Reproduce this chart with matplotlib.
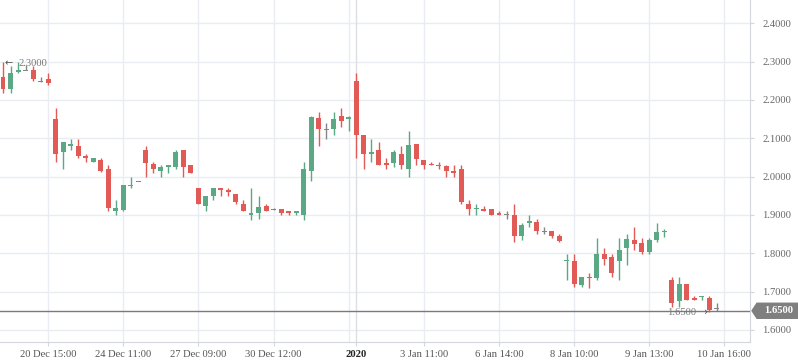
import matplotlib
matplotlib.use('Agg')
import matplotlib.pyplot as plt
from matplotlib.patches import Polygon
import numpy as np

# OHLC, one row per candle
opens = [2.261, 2.229, 2.274, 2.278, 2.278, 2.248, 2.255, 2.150, 2.065, 2.080,
         2.080, 2.054, 2.039, 2.043, 2.021, 1.911, 1.914, 1.977, 1.988, 2.069,
         2.033, 2.015, 2.026, 2.026, 2.069, 2.030, 1.971, 1.924, 1.950, 1.970,
         1.965, 1.955, 1.929, 1.900, 1.905, 1.923, 1.915, 1.916, 1.910, 1.905,
         1.901, 2.015, 2.152, 2.123, 2.124, 2.158, 2.152, 2.249, 2.109, 2.060,
         2.069, 2.034, 2.035, 2.059, 2.020, 2.085, 2.043, 2.033, 2.030, 2.028,
         2.013, 2.020, 1.929, 1.917, 1.916, 1.916, 1.905, 1.900, 1.900, 1.845,
         1.879, 1.882, 1.858, 1.858, 1.845, 1.780, 1.780, 1.717, 1.738, 1.735,
         1.798, 1.790, 1.780, 1.814, 1.835, 1.827, 1.803, 1.835, 1.857, 1.730,
         1.676, 1.720, 1.684, 1.687, 1.684, 1.655]
highs = [2.300, 2.289, 2.300, 2.290, 2.289, 2.259, 2.271, 2.178, 2.090, 2.098,
         2.098, 2.060, 2.049, 2.049, 2.030, 1.939, 1.978, 2.000, 1.988, 2.080,
         2.038, 2.030, 2.030, 2.069, 2.069, 2.030, 1.971, 1.949, 1.970, 1.970,
         1.970, 1.955, 1.939, 1.970, 1.949, 1.929, 1.917, 1.916, 1.910, 1.910,
         2.037, 2.159, 2.169, 2.139, 2.169, 2.179, 2.159, 2.270, 2.109, 2.098,
         2.090, 2.049, 2.069, 2.080, 2.119, 2.085, 2.043, 2.039, 2.038, 2.030,
         2.030, 2.030, 1.939, 1.929, 1.923, 1.916, 1.910, 1.910, 1.929, 1.879,
         1.900, 1.890, 1.869, 1.858, 1.850, 1.798, 1.798, 1.738, 1.748, 1.840,
         1.814, 1.798, 1.840, 1.850, 1.869, 1.840, 1.840, 1.879, 1.863, 1.738,
         1.738, 1.720, 1.689, 1.689, 1.689, 1.671]
lows = [2.219, 2.219, 2.271, 2.277, 2.250, 2.248, 2.240, 2.039, 2.021, 2.069,
        2.049, 2.039, 2.039, 2.013, 1.911, 1.900, 1.911, 1.971, 1.988, 2.000,
        2.010, 2.000, 2.010, 2.021, 2.000, 2.010, 1.929, 1.911, 1.939, 1.950,
        1.950, 1.929, 1.911, 1.887, 1.890, 1.911, 1.912, 1.900, 1.900, 1.900,
        1.887, 1.989, 2.080, 2.099, 2.109, 2.129, 2.119, 2.049, 2.020, 2.039,
        2.031, 2.021, 2.026, 2.020, 1.999, 2.030, 2.020, 2.030, 2.020, 1.999,
        1.999, 1.929, 1.900, 1.900, 1.910, 1.900, 1.900, 1.890, 1.829, 1.835,
        1.869, 1.850, 1.850, 1.840, 1.829, 1.730, 1.711, 1.711, 1.709, 1.730,
        1.770, 1.738, 1.730, 1.770, 1.808, 1.798, 1.798, 1.829, 1.842, 1.661,
        1.661, 1.679, 1.679, 1.679, 1.648, 1.650]
closes = [2.229, 2.271, 2.277, 2.278, 2.255, 2.248, 2.245, 2.060, 2.090, 2.085,
          2.054, 2.049, 2.049, 2.015, 1.919, 1.918, 1.978, 1.979, 1.988, 2.035,
          2.021, 2.026, 2.030, 2.064, 2.026, 2.010, 1.929, 1.949, 1.970, 1.965,
          1.960, 1.934, 1.911, 1.905, 1.921, 1.911, 1.915, 1.905, 1.905, 1.910,
          2.020, 2.156, 2.124, 2.123, 2.150, 2.146, 2.154, 2.109, 2.060, 2.064,
          2.031, 2.032, 2.064, 2.030, 2.083, 2.046, 2.030, 2.030, 2.028, 2.015,
          2.011, 1.935, 1.916, 1.919, 1.910, 1.900, 1.900, 1.900, 1.845, 1.874,
          1.885, 1.858, 1.858, 1.845, 1.832, 1.782, 1.720, 1.738, 1.735, 1.798,
          1.785, 1.749, 1.808, 1.837, 1.824, 1.803, 1.835, 1.856, 1.859, 1.671,
          1.720, 1.679, 1.679, 1.688, 1.653, 1.655]

tick_idx = [6, 16, 26, 36, 47, 56, 66, 76, 86, 96]
tick_labels = ['20 Dec 15:00', '24 Dec 11:00', '27 Dec 09:00', '30 Dec 12:00', '2020',
               '3 Jan 11:00', '6 Jan 14:00', '8 Jan 10:00', '9 Jan 13:00', '10 Jan 16:00']
grid_idx = [6, 16, 26, 36, 46, 56, 66, 76, 86, 96]
year_idx = 47
price_ticks = [1.6, 1.7, 1.8, 1.9, 2.0, 2.1, 2.2, 2.3, 2.4]
last_price = 1.65

plt.rcParams['font.family'] = ['Liberation Serif', 'DejaVu Sans']

GREEN = '#5ba884'
RED = '#e25a55'
GRAY = '#858585'
GRID = '#e9ecf0'
AXIS = '#d3d7dc'

o = np.array(opens); h = np.array(highs); l = np.array(lows); c = np.array(closes)
x = np.arange(len(o))
cols = np.where(c > o, GREEN, np.where(c < o, RED, GRAY))

fig = plt.figure(figsize=(7.98, 3.63), dpi=100)
ax = fig.add_axes([0, 21 / 363, 750 / 798, 342 / 363])

for p in price_ticks:
    ax.axhline(p, color=GRID, lw=1, zorder=0)
for g in grid_idx:
    ax.axvline(g, color=GRID, lw=1, zorder=0)
ax.axvline(year_idx, color='#dcdfe4', lw=1, zorder=0)

ax.vlines(x, l, h, colors=cols, lw=1.0, zorder=2)
body = np.maximum(np.abs(c - o), 0.0028)
ax.bar(x, body, bottom=np.minimum(o, c) - (body - np.abs(c - o)) / 2,
       width=0.66, color=cols, zorder=3)

ax.axhline(last_price, color='#7a7a7a', lw=1, zorder=4)

ax.set_xlim(-0.4, 99.4)
ax.set_ylim(1.5685, 2.4608)

ax.set_xticks(tick_idx)
ax.set_xticklabels(tick_labels)
ax.set_yticks(price_ticks)
ax.set_yticklabels(['%.4f' % p for p in price_ticks])
ax.yaxis.tick_right()
ax.tick_params(axis='y', length=3, color=AXIS, pad=6, labelsize=7.6, labelcolor='#666666')
ax.tick_params(axis='x', length=3, color=AXIS, pad=3, labelsize=7.6, labelcolor='#555555')
for t in ax.get_xticklabels():
    if t.get_text() == '2020':
        t.set_fontweight('bold')
        t.set_color('#222222')

for s in ['top', 'left']:
    ax.spines[s].set_visible(False)
ax.spines['right'].set_color(AXIS)
ax.spines['bottom'].set_color(AXIS)

# high / low markers (arrow drawn in DejaVu so it reads clearly)
hi = int(np.argmax(h))
lo = int(np.argmin(l))
ax.text(hi + 0.2, h[hi] - 0.005, '\u2190', family='DejaVu Sans', fontsize=7, color='#555555',
        ha='left', va='center', zorder=5)
ax.text(hi + 2.0, h[hi] - 0.005, '%.4f' % h[hi], fontsize=7.6, color='#777777',
        ha='left', va='center', zorder=5)
ax.text(lo - 0.2, l[lo] - 0.001, '\u203a', family='DejaVu Sans', fontsize=8, color='#555555',
        ha='right', va='center', zorder=5)
ax.text(lo - 1.8, l[lo] - 0.002, '%.4f' % round(l[lo], 2), fontsize=7.6, color='#777777',
        ha='right', va='center', zorder=5)

# last price tag on the right axis
tr = ax.get_yaxis_transform()
hh = 0.0196
tag = Polygon([(1.0027, last_price), (1.0093, last_price + hh), (1.07, last_price + hh),
               (1.07, last_price - hh), (1.0093, last_price - hh)],
              closed=True, transform=tr, clip_on=False, color='#7f7f7f', zorder=6)
ax.add_patch(tag)
ax.text(1.0187, last_price, '%.4f' % last_price, transform=tr, fontsize=7.6, color='white',
        fontweight='bold', ha='left', va='center', zorder=7)

fig.savefig('out.png', dpi=100)
